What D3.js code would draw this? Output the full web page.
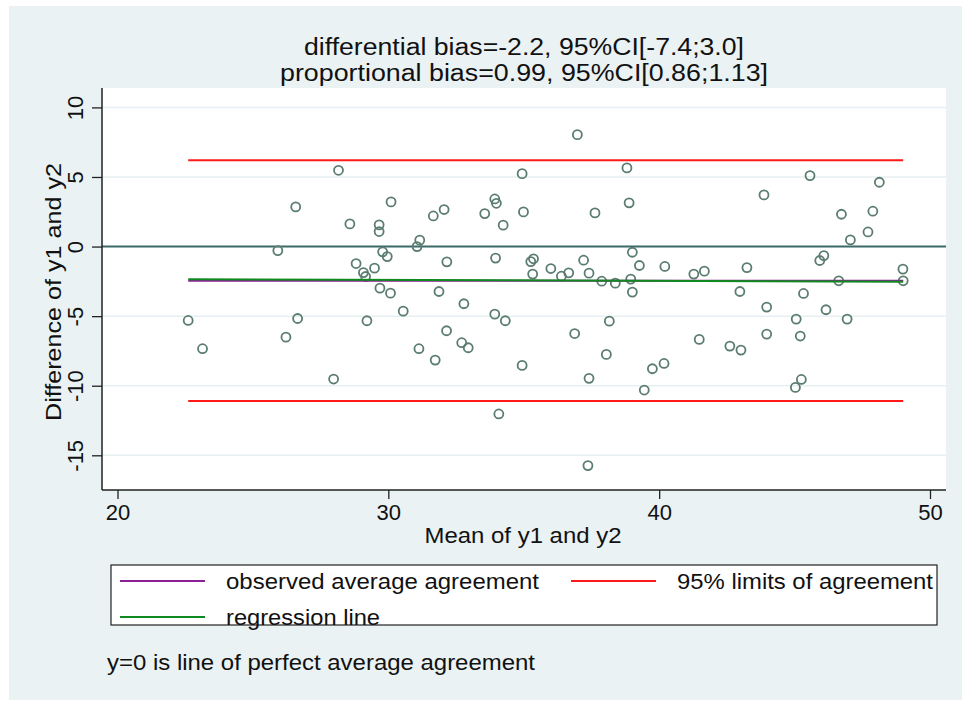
<!DOCTYPE html>
<html>
<head>
<meta charset="utf-8">
<script src="https://cdn.jsdelivr.net/npm/d3@7"></script>
<style>
  body { margin: 0; background: #ffffff; }
  text { font-family: "Liberation Sans", Arial, sans-serif; fill: #111; }
</style>
</head>
<body>
<script>
// mean of y1 and y2 (x) and difference of y1 and y2 (y)
var meanVals = [22.61, 23.14, 25.92, 26.22, 26.58, 26.65, 27.98, 28.16, 28.58, 28.81,
  29.08, 29.16, 29.21, 29.49, 29.66, 29.66, 29.69, 29.79, 29.96, 30.08,
  30.10, 30.55, 31.06, 31.16, 31.13, 31.66, 31.73, 31.87, 32.06, 32.16,
  32.15, 32.71, 32.79, 32.95, 33.56, 33.93, 33.99, 33.96, 33.93, 34.08,
  34.24, 34.32, 34.94, 34.99, 34.94, 35.26, 35.36, 35.33, 36.00, 36.39,
  36.66, 36.88, 36.98, 37.21, 37.37, 37.41, 37.41, 37.63, 37.88, 38.05,
  38.16, 38.38, 38.81, 38.89, 38.95, 39.01, 39.01, 39.27, 39.45, 39.75,
  40.18, 40.21, 41.28, 41.48, 41.67, 42.61, 42.98, 43.02, 43.24, 43.87,
  43.97, 43.97, 45.03, 45.06, 45.21, 45.25, 45.33, 45.57, 45.93, 46.08,
  46.16, 46.63, 46.73, 46.94, 47.06, 47.71, 47.89, 48.13, 49.00, 49.01];
var diffVals = [-5.31, -7.34, -0.29, -6.51, 2.85, -5.17, -9.52, 5.48, 1.63, -1.22,
  -1.87, -2.15, -5.33, -1.55, 1.56, 1.08, -2.99, -0.38, -0.72, -3.35,
  3.21, -4.64, 0.00, 0.46, -7.34, 2.20, -8.16, -3.23, 2.66, -1.10,
  -6.05, -6.91, -4.11, -7.27, 2.37, 3.42, 3.11, -0.83, -4.86, -12.03,
  1.54, -5.33, 5.24, 2.49, -8.54, -1.08, -0.88, -1.98, -1.58, -2.13,
  -1.89, -6.25, 8.04, -0.98, -15.74, -1.91, -9.47, 2.42, -2.49, -7.75,
  -5.36, -2.63, 5.65, 3.14, -2.34, -0.41, -3.27, -1.36, -10.31, -8.78,
  -8.40, -1.43, -1.98, -6.67, -1.77, -7.15, -3.23, -7.44, -1.51, 3.71,
  -4.35, -6.29, -10.12, -5.21, -6.43, -9.55, -3.37, 5.10, -1.00, -0.65,
  -4.54, -2.46, 2.32, -5.21, 0.48, 1.05, 2.54, 4.62, -1.62, -2.46];

var xTicks = [20, 30, 40, 50];
var yTicks = [10, 5, 0, -5, -10, -15];
var lineRange = [22.61, 49.01];      // x extent of the reference lines
var meanDiff = [-2.45, -2.45];       // observed average agreement
var regLine = [-2.35, -2.52];        // regression line at the two ends
var loaLower = [-11.1, -11.1];
var loaUpper = [6.2, 6.2];

var titleLines = ["differential bias=-2.2, 95%CI[-7.4;3.0]",
                  "proportional bias=0.99, 95%CI[0.86;1.13]"];
var legendItems = [
  {label: "observed average agreement", color: "#8b1f95"},
  {label: "95% limits of agreement", color: "#ff1a1a"},
  {label: "regression line", color: "#0f8a1e"}
];

var W = 970, H = 702;
var svg = d3.select("body").append("svg").attr("width", W).attr("height", H);

// outer background
svg.append("rect").attr("x", 9).attr("y", 6).attr("width", 953).attr("height", 694)
  .attr("fill", "#eaf2f3");

var plotL = 102, plotR = 946, plotT = 88, plotB = 490;
svg.append("rect").attr("x", plotL).attr("y", plotT)
  .attr("width", plotR - plotL).attr("height", plotB - plotT).attr("fill", "#ffffff");

var x = d3.scaleLinear().domain([20, 50]).range([117.5, 930]);
var y = d3.scaleLinear().domain([10, -15]).range([107.4, 455.3]);

// gridlines
svg.selectAll("line.grid").data(yTicks).enter().append("line")
  .attr("x1", plotL).attr("x2", plotR)
  .attr("y1", function(d){ return y(d); }).attr("y2", function(d){ return y(d); })
  .attr("stroke", "#e6eff1").attr("stroke-width", 1.5);

// zero line
svg.append("line").attr("x1", plotL).attr("x2", plotR)
  .attr("y1", y(0)).attr("y2", y(0))
  .attr("stroke", "#3d6b66").attr("stroke-width", 2);

// points
svg.append("g").selectAll("circle").data(meanVals).enter().append("circle")
  .attr("cx", function(d){ return x(d); })
  .attr("cy", function(d, i){ return y(diffVals[i]); })
  .attr("r", 4.5)
  .attr("fill", "none").attr("stroke", "#5b7d70").attr("stroke-width", 1.8);

function refLine(vals, color, w) {
  svg.append("line")
    .attr("x1", x(lineRange[0])).attr("x2", x(lineRange[1]))
    .attr("y1", y(vals[0])).attr("y2", y(vals[1]))
    .attr("stroke", color).attr("stroke-width", w);
}
refLine(loaUpper, legendItems[1].color, 2);
refLine(loaLower, legendItems[1].color, 2);
refLine(meanDiff, legendItems[0].color, 2);
refLine(regLine, legendItems[2].color, 2);

// axes
var yAxis = svg.append("g").attr("transform", "translate(" + plotL + ",0)")
  .call(d3.axisLeft(y).tickValues(yTicks).tickSize(10).tickFormat(d3.format("d")));
yAxis.select(".domain").attr("d", "M0," + plotT + "V" + plotB).attr("stroke", "#222").attr("stroke-width", 1.5);
yAxis.selectAll(".tick line").attr("stroke", "#222").attr("stroke-width", 1.3);
yAxis.selectAll(".tick text")
  .attr("x", null).attr("dy", null)
  .attr("transform", "translate(-27,0) rotate(-90)")
  .attr("text-anchor", "middle").attr("dominant-baseline", "central")
  .style("font-size", "22px").style("font-family", "Liberation Sans, Arial, sans-serif").attr("fill", "#111")
  .text(function(d){ return d < 0 ? "-" + Math.abs(d) : d; });

var xAxis = svg.append("g").attr("transform", "translate(0," + plotB + ")")
  .call(d3.axisBottom(x).tickValues(xTicks).tickSize(9).tickFormat(d3.format("d")));
xAxis.select(".domain").attr("d", "M" + plotL + ",0H" + plotR).attr("stroke", "#222").attr("stroke-width", 1.5);
xAxis.selectAll(".tick line").attr("stroke", "#222").attr("stroke-width", 1.3);
xAxis.selectAll(".tick text").attr("y", 22).attr("dy", null).attr("dominant-baseline", "central")
  .style("font-size", "22px").style("font-family", "Liberation Sans, Arial, sans-serif").attr("fill", "#111");

// axis titles
svg.append("text").attr("transform", "translate(53,292) rotate(-90)")
  .attr("text-anchor", "middle").attr("dominant-baseline", "central")
  .style("font-size", "22px").attr("textLength", 258).attr("lengthAdjust", "spacingAndGlyphs")
  .text("Difference of y1 and y2");
svg.append("text").attr("x", 523).attr("y", 535)
  .attr("text-anchor", "middle").attr("dominant-baseline", "central")
  .style("font-size", "22px").attr("textLength", 197).attr("lengthAdjust", "spacingAndGlyphs")
  .text("Mean of y1 and y2");

// title
var titleWidths = [440, 488];
svg.selectAll("text.title").data(titleLines).enter().append("text")
  .attr("x", 524).attr("y", function(d, i){ return 47 + i * 26; })
  .attr("text-anchor", "middle").attr("dominant-baseline", "central")
  .style("font-size", "23px")
  .attr("textLength", function(d, i){ return titleWidths[i]; }).attr("lengthAdjust", "spacingAndGlyphs")
  .text(function(d){ return d; });

// legend
svg.append("rect").attr("x", 111).attr("y", 565).attr("width", 826).attr("height", 60)
  .attr("fill", "#ffffff").attr("stroke", "#222").attr("stroke-width", 1.2);
var legPos = [{x: 120, y: 581, w: 313}, {x: 571, y: 581, w: 256}, {x: 120, y: 617, w: 154}];
legendItems.forEach(function(item, i) {
  var p = legPos[i];
  svg.append("line").attr("x1", p.x).attr("x2", p.x + 85).attr("y1", p.y).attr("y2", p.y)
    .attr("stroke", item.color).attr("stroke-width", 2);
  svg.append("text").attr("x", p.x + 106).attr("y", p.y)
    .attr("dominant-baseline", "central").style("font-size", "22px")
    .attr("textLength", p.w).attr("lengthAdjust", "spacingAndGlyphs")
    .text(item.label);
});

// note
svg.append("text").attr("x", 107).attr("y", 662)
  .attr("dominant-baseline", "central").style("font-size", "22px")
  .attr("textLength", 428).attr("lengthAdjust", "spacingAndGlyphs")
  .text("y=0 is line of perfect average agreement");
</script>
</body>
</html>
